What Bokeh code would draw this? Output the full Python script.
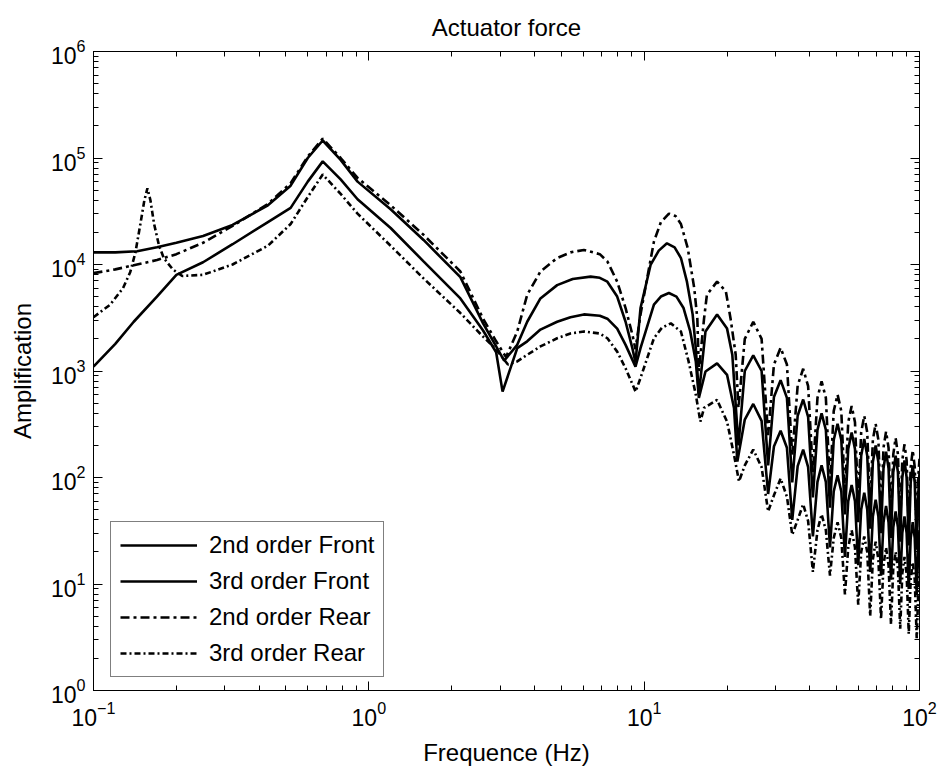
from bokeh.plotting import figure
from bokeh.models import LogAxis, Range1d, LogTicker, CustomJSTickFormatter
from bokeh.embed import file_html
from bokeh.resources import INLINE

# ---- data (Hz, amplification) ----
A_F = [0.1, 0.12, 0.144, 0.17, 0.2, 0.25, 0.32, 0.43, 0.52, 0.6, 0.68, 0.79, 0.91, 1.2, 1.58, 2.15,
       2.6, 2.9, 3.1, 3.46, 3.76, 4.2, 4.83, 5.5, 6.39, 6.9, 7.35, 7.98, 8.56, 9.06, 9.3, 9.7,
       10.55, 11.3, 12.1, 12.9, 13.6, 14.3, 15.0, 15.4, 15.8, 16.7, 18.4, 20.0, 20.9, 22.0, 23.2,
       24.9, 26.7, 28.2, 29.6, 31.3, 33.0, 34.5, 36.1, 37.8, 39.4, 41.0]
A_AMP = [1.3e4, 1.3e4, 1.33e4, 1.45e4, 1.6e4, 1.85e4, 2.35e4, 3.6e4, 5.5e4, 1.0e5, 1.46e5, 9.6e4,
         6.0e4, 3.3e4, 1.7e4, 7.6e3, 2.8e3, 1.7e3, 1.25e3, 1.76e3, 2.9e3, 4.8e3, 6.4e3, 7.3e3,
         7.7e3, 7.5e3, 6.9e3, 5.0e3, 2.9e3, 1.64e3, 1.2e3, 3.9e3, 9.9e3, 1.35e4, 1.58e4, 1.45e4,
         1.15e4, 6.9e3, 3.4e3, 1.64e3, 600, 2.35e3, 3.4e3, 2.5e3, 1.42e3, 200, 1.0e3, 1.4e3,
         1.0e3, 130, 570, 820, 560, 90, 380, 540, 370, 65]

D_F = [0.1, 0.12, 0.14, 0.17, 0.2, 0.25, 0.32, 0.43, 0.52, 0.6, 0.68, 0.79, 0.91, 1.2, 1.58, 2.15,
       2.6, 2.9, 3.06, 3.46, 3.76, 4.2, 4.83, 5.4, 6.04, 6.9, 7.35, 7.98, 8.56, 9.3, 9.7, 10.85,
       11.5, 12.3, 13.1, 13.9, 14.7, 15.4, 15.8, 16.7, 18.4, 20.0, 21.2, 21.8, 23.2, 24.9, 26.7,
       28.2, 29.6, 31.3, 33.0, 34.5, 36.1, 37.8, 39.4, 41.0]
D_AMP = [1.1e3, 1.8e3, 2.9e3, 5.0e3, 8.0e3, 1.05e4, 1.55e4, 2.5e4, 3.4e4, 6.0e4, 9.3e4, 6.3e4,
         4.1e4, 2.2e4, 1.07e4, 4.8e3, 2.4e3, 1.5e3, 640, 1.64e3, 1.9e3, 2.45e3, 2.9e3, 3.2e3,
         3.4e3, 3.3e3, 3.1e3, 2.5e3, 1.76e3, 1.1e3, 1.64e3, 4.2e3, 5.0e3, 5.4e3, 5.0e3, 3.9e3,
         2.35e3, 1.23e3, 560, 990, 1.18e3, 920, 450, 141, 350, 490, 340, 70, 195, 275, 190, 40,
         128, 183, 125, 28]

B_F = [0.1, 0.12, 0.144, 0.17, 0.2, 0.25, 0.32, 0.43, 0.52, 0.6, 0.68, 0.79, 0.91, 1.2, 1.58, 2.15,
       2.6, 2.9, 3.15, 3.46, 3.76, 4.2, 4.83, 5.4, 6.04, 6.9, 7.35, 7.98, 8.56, 9.06, 9.3, 9.7,
       10.2, 10.85, 11.5, 12.3, 13.0, 13.6, 14.4, 15.2, 15.6, 15.8, 16.5, 16.9, 18.4, 19.8, 20.6,
       21.5, 22.0, 23.2, 24.9, 26.7, 28.2, 29.6, 31.3, 33.0, 34.5, 36.1, 37.8, 39.4, 41.0]
B_AMP = [8.3e3, 9.0e3, 1.0e4, 1.1e4, 1.25e4, 1.6e4, 2.3e4, 3.7e4, 5.8e4, 1.03e5, 1.52e5, 1.0e5,
         6.5e4, 3.6e4, 1.9e4, 8.6e3, 3.1e3, 1.9e3, 1.35e3, 2.35e3, 5.2e3, 8.6e3, 1.15e4, 1.3e4,
         1.37e4, 1.25e4, 1.07e4, 6.9e3, 3.9e3, 2.2e3, 1.6e3, 3.4e3, 6.9e3, 1.64e4, 2.5e4, 3.0e4,
         2.85e4, 2.4e4, 1.42e4, 6.0e3, 3.1e3, 1.0e3, 3.1e3, 5.2e3, 6.9e3, 5.6e3, 3.1e3, 1.42e3,
         450, 2.0e3, 2.9e3, 2.0e3, 250, 1.15e3, 1.65e3, 1.15e3, 160, 730, 1.05e3, 720, 110]

C_F = [0.1, 0.115, 0.128, 0.136, 0.142, 0.148, 0.153, 0.157, 0.161, 0.166, 0.173, 0.18, 0.194,
       0.21, 0.25, 0.32, 0.43, 0.52, 0.6, 0.68, 0.79, 0.91, 1.2, 1.58, 2.15, 2.6, 2.9, 3.2, 3.46,
       3.76, 4.2, 4.83, 5.4, 6.04, 6.9, 7.35, 7.98, 8.56, 9.31, 9.7, 10.85, 11.6, 12.5, 13.6,
       14.5, 15.4, 16.0, 16.5, 18.4, 20.0, 21.2, 22.1, 23.2, 24.9, 26.7, 28.2, 29.6, 31.3, 33.0,
       34.5, 36.1, 37.8, 39.4, 41.0]
C_AMP = [3.2e3, 4.2e3, 6.0e3, 8.5e3, 1.3e4, 2.4e4, 4.0e4, 5.2e4, 4.0e4, 2.4e4, 1.5e4, 1.15e4,
         9.0e3, 7.8e3, 8.0e3, 1.0e4, 1.5e4, 2.4e4, 4.3e4, 7.0e4, 4.6e4, 3.0e4, 1.5e4, 7.4e3,
         3.5e3, 2.1e3, 1.6e3, 1.15e3, 1.23e3, 1.42e3, 1.7e3, 2.03e3, 2.25e3, 2.35e3, 2.25e3,
         2.03e3, 1.52e3, 1.06e3, 640, 860, 2.03e3, 2.55e3, 2.8e3, 2.35e3, 1.23e3, 600, 335, 450,
         536, 335, 163, 92, 130, 183, 125, 48, 68, 98, 66, 29, 40, 56, 39, 13]

# high-frequency comb (shared frequencies: shoulder / peak / shoulder / notch per lobe)
TAIL_F = [42.6, 44.1, 45.7, 47.3, 48.8, 50.4, 52.0, 53.6, 55.1, 56.7, 58.3, 59.9, 61.4, 63.0,
          64.6, 66.2, 67.7, 69.3, 70.9, 72.5, 74.0, 75.6, 77.2, 78.8, 80.3, 81.9, 83.5, 85.1,
          86.6, 88.2, 89.8, 91.4, 92.9, 94.5, 96.1, 97.7, 99.2, 100.0]
A_TAIL = [280, 400, 280, 52, 225, 320, 225, 45, 185, 265, 185, 38, 160, 230, 160, 33, 140, 200,
          140, 30, 122, 175, 122, 27, 112, 160, 112, 25, 100, 145, 100, 23, 90, 130, 90, 21, 80, 110]
D_TAIL = [91, 130, 91, 22, 74, 105, 74, 18, 60, 85, 60, 15, 50, 72, 50, 13, 43, 62, 43, 12, 38, 54,
          38, 11, 34, 48, 34, 10, 30, 43, 30, 9, 27, 38, 27, 8, 24, 32]
B_TAIL = [560, 800, 560, 85, 420, 600, 420, 70, 330, 470, 330, 58, 265, 380, 265, 50, 225, 320,
          225, 44, 190, 270, 190, 40, 165, 235, 165, 36, 145, 205, 145, 33, 125, 180, 125, 30, 110,
          150]
C_TAIL = [32, 45, 32, 12, 27, 38, 27, 8, 22, 32, 22, 6.4, 20, 28, 20, 5, 17, 25, 17, 4.7, 15, 22,
          15, 4.2, 14, 20, 14, 3.8, 12.5, 18, 12.5, 3.4, 11, 16, 11, 3.1, 10, 13]

LABELS = ["2nd order Front", "3rd order Front", "2nd order Rear", "3rd order Rear"]

FONT = "Liberation Sans"

p = figure(x_axis_type="log", y_axis_type="log",
           x_range=Range1d(0.1, 100), y_range=Range1d(1, 1e6),
           frame_width=826, frame_height=639,
           min_border_left=93, min_border_right=22, min_border_top=50, min_border_bottom=78,
           output_backend="svg", toolbar_location=None, title="Actuator force")

p.background_fill_color = "white"
p.border_fill_color = "white"
p.outline_line_color = "black"
p.outline_line_width = 1
p.xgrid.visible = False
p.ygrid.visible = False

p.title.text_font = FONT
p.title.text_font_size = "24px"
p.title.text_font_style = "normal"
p.title.align = "center"
p.title.text_color = "black"
p.title.standoff = 22

for ax in (p.xaxis[0], p.yaxis[0]):
    ax.major_tick_in = 9
    ax.major_tick_out = 0
    ax.minor_tick_in = 5
    ax.minor_tick_out = 0
    ax.axis_line_color = "black"
    ax.major_tick_line_color = "black"
    ax.minor_tick_line_color = "black"
    ax.major_label_text_font = FONT
    ax.major_label_text_font_size = "23px"
    ax.major_label_text_color = "black"
    ax.axis_label_text_font = FONT
    ax.axis_label_text_font_size = "24px"
    ax.axis_label_text_font_style = "normal"
    ax.axis_label_text_color = "black"

p.xaxis[0].axis_label = "Frequence (Hz)"
p.yaxis[0].axis_label = "Amplification"
p.xaxis[0].major_label_standoff = 10
p.xaxis[0].axis_label_standoff = 10
p.yaxis[0].major_label_standoff = 8
p.yaxis[0].axis_label_standoff = 12

blank = CustomJSTickFormatter(code="return ''")
top_ax = LogAxis(ticker=LogTicker(num_minor_ticks=10), formatter=blank)
right_ax = LogAxis(ticker=LogTicker(num_minor_ticks=10), formatter=blank)
for ax in (top_ax, right_ax):
    ax.major_tick_in = 9
    ax.major_tick_out = 0
    ax.minor_tick_in = 5
    ax.minor_tick_out = 0
    ax.major_label_text_font_size = "2px"
    ax.major_label_standoff = 0
    ax.axis_line_color = "black"
p.add_layout(top_ax, "above")
p.add_layout(right_ax, "right")

p.line(A_F + TAIL_F, A_AMP + A_TAIL, line_width=2.6, color="black", legend_label=LABELS[0])
p.line(D_F + TAIL_F, D_AMP + D_TAIL, line_width=2.6, color="black", legend_label=LABELS[1])
p.line(B_F + TAIL_F, B_AMP + B_TAIL, line_width=2.6, color="black", line_dash="9 4 3 4",
       legend_label=LABELS[2])
p.line(C_F + TAIL_F, C_AMP + C_TAIL, line_width=2.6, color="black", line_dash="6 3 2 3",
       legend_label=LABELS[3])

lg = p.legend[0]
lg.location = (17, 13)
lg.label_text_font = FONT
lg.label_text_font_size = "24px"
lg.label_text_color = "black"
lg.border_line_color = "black"
lg.border_line_width = 1
lg.background_fill_color = "white"
lg.background_fill_alpha = 1
lg.glyph_width = 77
lg.glyph_height = 24
lg.label_height = 24
lg.label_standoff = 12
lg.padding = 9
lg.spacing = 8
lg.margin = 0

open("out.html", "w").write(file_html(p, INLINE))
